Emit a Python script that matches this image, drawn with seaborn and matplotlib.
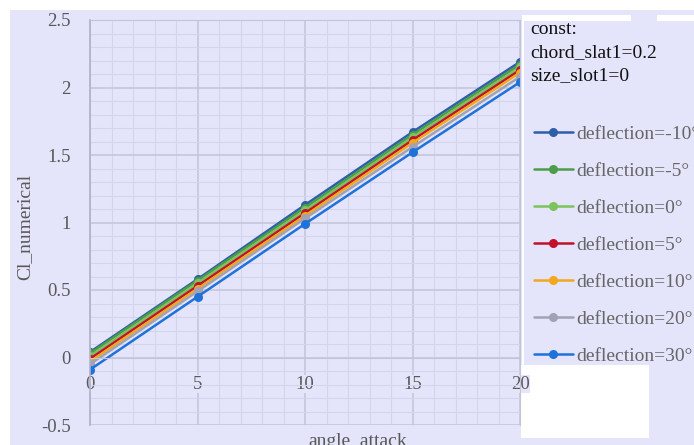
import matplotlib.pyplot as plt
import matplotlib.patches as mpatches
import seaborn as sns
import pandas as pd

angles = [0, 5, 10, 15, 20]
deflections = ["-10", "-5", "0", "5", "10", "20", "30"]
cl_m10 = [0.04, 0.58, 1.13, 1.67, 2.19]
cl_m5 = [0.03, 0.57, 1.11, 1.65, 2.17]
cl_0 = [0.01, 0.55, 1.09, 1.63, 2.15]
cl_5 = [-0.01, 0.53, 1.07, 1.61, 2.13]
cl_10 = [-0.03, 0.51, 1.05, 1.59, 2.11]
cl_20 = [-0.05, 0.49, 1.03, 1.56, 2.08]
cl_30 = [-0.09, 0.45, 0.99, 1.52, 2.04]
series = [cl_m10, cl_m5, cl_0, cl_5, cl_10, cl_20, cl_30]
colors = ["#2f5ea8", "#4b9e47", "#7dc35b", "#c1112b", "#f2a81c", "#a2a2b4", "#1e72da"]

BG = "#e4e4fb"
GRID_MAJ = "#c4c4d8"
GRID_MIN = "#d4d4ec"
SERIF = ["Liberation Serif", "DejaVu Serif"]

rows = []
for d, vals in zip(deflections, series):
    for a, v in zip(angles, vals):
        rows.append({"angle_attack": a, "Cl_numerical": v, "label": f"deflection={d}°"})
df = pd.DataFrame(rows)
labels = [f"deflection={d}°" for d in deflections]

sns.set_style("white")
plt.rcParams["font.family"] = SERIF

fig = plt.figure(figsize=(6.94, 4.45), dpi=100, facecolor=BG)
ax = fig.add_axes([90 / 694, 20 / 445, 430 / 694, 405 / 445])
ax.set_facecolor(BG)
ax.set_zorder(1)

sns.lineplot(data=df, x="angle_attack", y="Cl_numerical", hue="label",
             hue_order=labels, palette=colors, marker="o", markersize=6.5,
             markeredgewidth=0, linewidth=1.8, ax=ax)

ax.set_xlim(0, 20)
ax.set_ylim(-0.5, 2.5)
ax.set_xticks(angles)
ax.set_yticks([-0.5, 0, 0.5, 1, 1.5, 2, 2.5])
ax.set_yticklabels(["-0.5", "0", "0.5", "1", "1.5", "2", "2.5"])
ax.set_xticks(range(0, 21), minor=True)
ax.set_yticks([i / 10 for i in range(-5, 26)], minor=True)
ax.grid(which="major", color=GRID_MAJ, linewidth=1.1)
ax.grid(which="minor", color=GRID_MIN, linewidth=0.8)
ax.set_axisbelow(True)
for s in ["top", "right"]:
    ax.spines[s].set_color(GRID_MAJ)
ax.spines["left"].set_color("#b0b0c6")
ax.spines["left"].set_linewidth(1.2)
ax.spines["bottom"].set_position(("data", 0))
ax.spines["bottom"].set_color(GRID_MAJ)
ax.tick_params(which="both", length=0)
ax.tick_params(axis="y", pad=14, labelsize=13.5, labelcolor="#595959")
ax.tick_params(axis="x", pad=13, labelsize=13.5, labelcolor="#595959")
for t in ax.get_xticklabels():
    t.set_bbox(dict(facecolor=BG, edgecolor="none", pad=0.5))
ax.set_xlabel("")
ax.set_ylabel("")

fig.text(25 / 694, 1 - 227 / 445, "Cl_numerical", rotation=90, ha="center", va="center",
         fontsize=14, color="#595959")
fig.text(358 / 694, 1 - 441 / 445, "angle_attack", ha="center", va="center",
         fontsize=14, color="#595959")

handles, _ = ax.get_legend_handles_labels()
ax.legend_.remove()

# overlays: white frame strips, legend panel, blank box
fig.patches.append(mpatches.Rectangle((0, 1 - 10 / 445), 1, 10 / 445, transform=fig.transFigure,
                                      facecolor="white", edgecolor="none", zorder=3))
fig.patches.append(mpatches.Rectangle((0, 0), 10 / 694, 1, transform=fig.transFigure,
                                      facecolor="white", edgecolor="none", zorder=3))
fig.patches.append(mpatches.Rectangle((521 / 694, 1 - 438 / 445), 128 / 694, 73 / 445,
                                      transform=fig.transFigure, facecolor="white",
                                      edgecolor="none", zorder=0.5))
fig.patches.append(mpatches.Rectangle((522 / 694, 1 - 365 / 445), 180 / 694, 350 / 445,
                                      transform=fig.transFigure, facecolor=BG,
                                      edgecolor="none", zorder=2))
fig.patches.append(mpatches.Rectangle((522 / 694, 1 - 365 / 445), 1.5 / 694, 350 / 445,
                                      transform=fig.transFigure, facecolor="white",
                                      edgecolor="none", zorder=2.5))
fig.patches.append(mpatches.Rectangle((522 / 694, 1 - 21 / 445), 109 / 694, 6 / 445,
                                      transform=fig.transFigure, facecolor="white",
                                      edgecolor="none", zorder=2.5))
fig.patches.append(mpatches.Rectangle((657 / 694, 1 - 21 / 445), 40 / 694, 6 / 445,
                                      transform=fig.transFigure, facecolor="white",
                                      edgecolor="none", zorder=2.5))

fig.text(530 / 694, 1 - 21 / 445, "const:\nchord_slat1=0.2\nsize_slot1=0", ha="left", va="top",
         fontsize=14, color="#111111", linespacing=1.45, zorder=4)

leg = fig.legend(handles, labels, loc="upper left", bbox_to_anchor=(534 / 694, 1 - 125 / 445),
                 frameon=False, fontsize=14, labelcolor="#666666", handlelength=2.0,
                 handletextpad=0.15, labelspacing=1.0, borderpad=0, borderaxespad=0)
leg.set_zorder(5)

fig.savefig("out.png", dpi=100, facecolor=BG)
